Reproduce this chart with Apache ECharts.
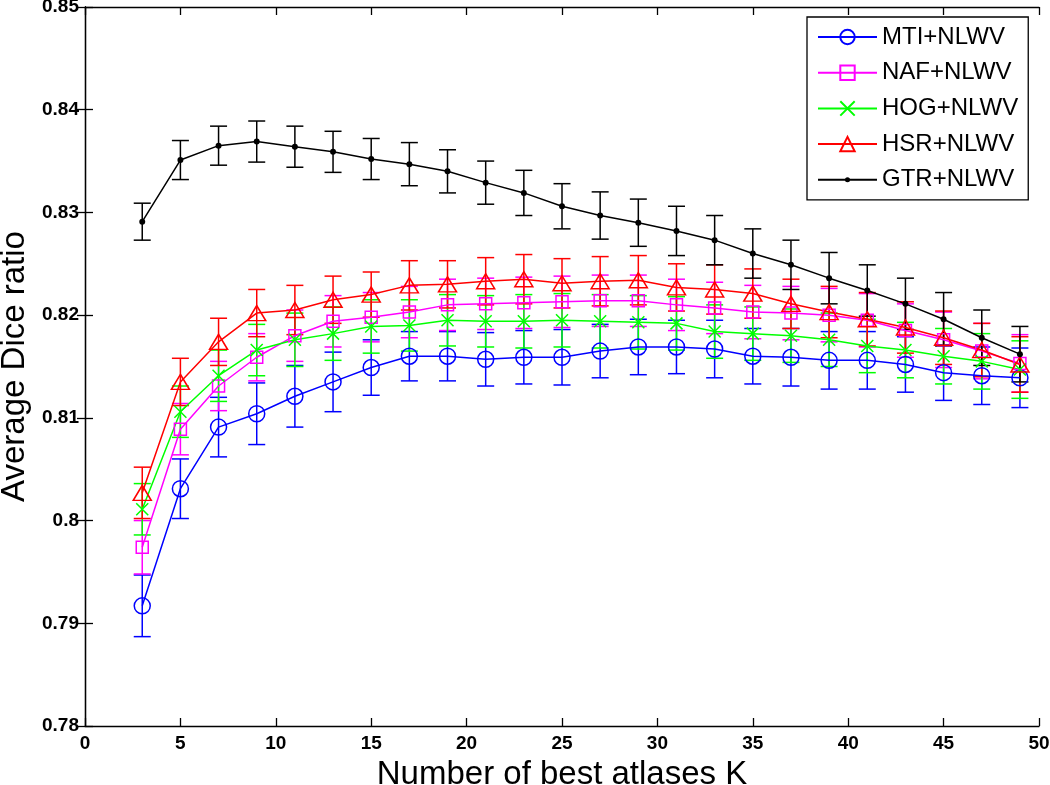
<!DOCTYPE html>
<html>
<head>
<meta charset="utf-8">
<script src="https://cdn.jsdelivr.net/npm/echarts@6/dist/echarts.min.js"></script>
<style>
html,body{margin:0;padding:0;background:#fff;}
#chart{width:1050px;height:785px;}
</style>
</head>
<body>
<div id="chart"></div>
<script>
// ---- data ----
var K = [3,5,7,9,11,13,15,17,19,21,23,25,27,29,31,33,35,37,39,41,43,45,47,49];
var seriesNames = ['MTI+NLWV','NAF+NLWV','HOG+NLWV','HSR+NLWV','GTR+NLWV'];

var mtiMean = [0.7917,0.8031,0.8091,0.8104,0.8121,0.8135,0.8149,0.8160,0.8160,0.8157,0.8159,0.8159,0.8165,0.8169,0.8169,0.8167,0.8160,0.8159,0.8156,0.8156,0.8152,0.8144,0.8141,0.8139];
var mtiErr  = [0.0030,0.0029,0.0029,0.0030,0.0030,0.0029,0.0027,0.0024,0.0024,0.0026,0.0026,0.0027,0.0026,0.0027,0.0026,0.0028,0.0027,0.0028,0.0028,0.0028,0.0027,0.0027,0.0028,0.0029];

var nafMean = [0.7974,0.8089,0.8131,0.8159,0.8180,0.8194,0.8198,0.8203,0.8210,0.8211,0.8212,0.8213,0.8214,0.8214,0.8210,0.8207,0.8203,0.8202,0.8200,0.8195,0.8185,0.8176,0.8165,0.8153];
var nafErr  = [0.0026,0.0025,0.0024,0.0023,0.0025,0.0025,0.0024,0.0025,0.0025,0.0025,0.0025,0.0025,0.0025,0.0025,0.0025,0.0025,0.0026,0.0026,0.0026,0.0026,0.0026,0.0027,0.0027,0.0028];

var hogMean = [0.8011,0.8106,0.8141,0.8166,0.8176,0.8182,0.8189,0.8190,0.8195,0.8194,0.8194,0.8195,0.8194,0.8193,0.8192,0.8184,0.8182,0.8180,0.8176,0.8170,0.8166,0.8160,0.8155,0.8147];
var hogErr  = [0.0025,0.0025,0.0025,0.0025,0.0026,0.0026,0.0026,0.0025,0.0025,0.0025,0.0026,0.0026,0.0026,0.0026,0.0026,0.0026,0.0026,0.0026,0.0026,0.0026,0.0027,0.0027,0.0027,0.0028];

var hsrMean = [0.8027,0.8135,0.8174,0.8202,0.8205,0.8215,0.8220,0.8229,0.8230,0.8233,0.8235,0.8231,0.8233,0.8234,0.8227,0.8225,0.8221,0.8211,0.8203,0.8196,0.8188,0.8178,0.8166,0.8152];
var hsrErr  = [0.0025,0.0023,0.0023,0.0023,0.0024,0.0023,0.0022,0.0024,0.0023,0.0023,0.0024,0.0024,0.0024,0.0024,0.0023,0.0024,0.0024,0.0024,0.0025,0.0026,0.0025,0.0026,0.0026,0.0027];

var gtrMean = [0.8291,0.8351,0.8365,0.8369,0.8364,0.8359,0.8352,0.8347,0.8340,0.8329,0.8319,0.8306,0.8297,0.8290,0.8282,0.8273,0.8260,0.8249,0.8236,0.8224,0.8211,0.8196,0.8178,0.8162];
var gtrErr  = [0.0018,0.0019,0.0019,0.0020,0.0020,0.0020,0.0020,0.0021,0.0021,0.0021,0.0022,0.0022,0.0023,0.0023,0.0024,0.0024,0.0024,0.0024,0.0025,0.0025,0.0025,0.0026,0.0027,0.0027];

var xTicks = [0,5,10,15,20,25,30,35,40,45,50];
var yTicks = [0.78,0.79,0.80,0.81,0.82,0.83,0.84,0.85];

// ---- styling ----
var FONT = 'Liberation Sans, Arial, Helvetica, sans-serif';
var colors = ['#0000ff','#ff00ff','#00ff00','#ff0000','#000000'];
// small dot drawn inside a larger (empty) 20x20 box so the legend icon stays small
var dotPath = 'path://M0,0M20,20M6.5,10A3.5,3.5,0,1,1,13.5,10A3.5,3.5,0,1,1,6.5,10Z';
var symbols = ['circle','rect','path://M0,0L10,10M10,0L0,10','triangle',dotPath];
var symbolSizes = [16,12,12,[18,15],17];
var means = [mtiMean,nafMean,hogMean,hsrMean,gtrMean];
var errs = [mtiErr,nafErr,hogErr,hsrErr,gtrErr];

function errRender(color){
  return function(params, api){
    var x = api.value(0), lo = api.value(1), hi = api.value(2);
    var p1 = api.coord([x, lo]), p2 = api.coord([x, hi]);
    var w = 8.5;
    var st = {stroke: color, lineWidth: 1.5, fill: null};
    return {
      type: 'group',
      children: [
        {type:'line', shape:{x1:p1[0],y1:p1[1],x2:p2[0],y2:p2[1]}, style: st},
        {type:'line', shape:{x1:p1[0]-w,y1:p1[1],x2:p1[0]+w,y2:p1[1]}, style: st},
        {type:'line', shape:{x1:p2[0]-w,y1:p2[1],x2:p2[0]+w,y2:p2[1]}, style: st}
      ]
    };
  };
}

var series = [];
for (var s = 0; s < 5; s++) {
  var m = means[s], e = errs[s];
  series.push({
    type: 'custom',
    name: seriesNames[s] + ' err',
    renderItem: errRender(colors[s]),
    data: K.map(function(k,i){ return [k, m[i]-e[i], m[i]+e[i]]; }),
    encode: {x: 0, y: [1,2]},
    silent: true,
    animation: false
  });
  var filled = (s === 4);
  series.push({
    type: 'line',
    name: seriesNames[s],
    data: K.map(function(k,i){ return [k, m[i]]; }),
    symbol: symbols[s],
    symbolSize: symbolSizes[s],
    symbolKeepAspect: true,
    showAllSymbol: true,
    color: colors[s],
    itemStyle: {
      color: filled ? colors[s] : 'rgba(255,255,255,0)',
      borderColor: colors[s],
      borderWidth: filled ? 0 : 1.5
    },
    lineStyle: {color: colors[s], width: 1.5},
    emphasis: {disabled: true},
    animation: false
  });
}

var axisLineStyle = {lineStyle: {color: '#000', width: 1.3}};

var option = {
  backgroundColor: '#fff',
  animation: false,
  grid: {left: 85, right: 11, top: 7, bottom: 59, containLabel: false, outerBoundsMode: 'none'},
  legend: {
    data: seriesNames,
    orient: 'vertical',
    left: 807,
    top: 17,
    itemWidth: 59,
    itemHeight: 18,
    itemGap: 11.7,
    padding: [8, 10, 8, 10],
    backgroundColor: '#fff',
    borderColor: '#000',
    borderWidth: 1.3,
    borderRadius: 0,
    textStyle: {fontFamily: FONT, fontSize: 24, color: '#000'},
    selectedMode: false
  },
  xAxis: [{
    type: 'value',
    min: 0, max: 50, interval: 5,
    name: 'Number of best atlases K',
    nameLocation: 'middle',
    nameGap: 32,
    nameTextStyle: {fontFamily: FONT, fontSize: 33, color: '#000'},
    axisLine: axisLineStyle,
    axisTick: {inside: true, length: 8, lineStyle: {color: '#000', width: 1.3}},
    axisLabel: {fontFamily: FONT, fontSize: 19, fontWeight: 'bold', color: '#000', margin: 8,
      formatter: function(v){ return String(Math.round(v)); }},
    splitLine: {show: false}
  },{
    type: 'value', position: 'top',
    min: 0, max: 50, interval: 5,
    axisLine: axisLineStyle,
    axisTick: {inside: true, length: 8, lineStyle: {color: '#000', width: 1.3}},
    axisLabel: {show: false},
    splitLine: {show: false}
  }],
  yAxis: [{
    type: 'value',
    min: 0.78, max: 0.85, interval: 0.01,
    name: 'Average Dice ratio',
    nameLocation: 'middle',
    nameGap: 53,
    nameTextStyle: {fontFamily: FONT, fontSize: 33, color: '#000'},
    axisLine: axisLineStyle,
    axisTick: {inside: true, length: 8, lineStyle: {color: '#000', width: 1.3}},
    axisLabel: {fontFamily: FONT, fontSize: 19, fontWeight: 'bold', color: '#000', margin: 6,
      formatter: function(v){ return String(Math.round(v*100)/100); }},
    splitLine: {show: false}
  },{
    type: 'value', position: 'right',
    min: 0.78, max: 0.85, interval: 0.01,
    axisLine: axisLineStyle,
    axisTick: {inside: true, length: 8, lineStyle: {color: '#000', width: 1.3}},
    axisLabel: {show: false},
    splitLine: {show: false}
  }],
  series: series
};

var chart = echarts.init(document.getElementById('chart'), null, {renderer: 'canvas'});
chart.setOption(option);
</script>
</body>
</html>
